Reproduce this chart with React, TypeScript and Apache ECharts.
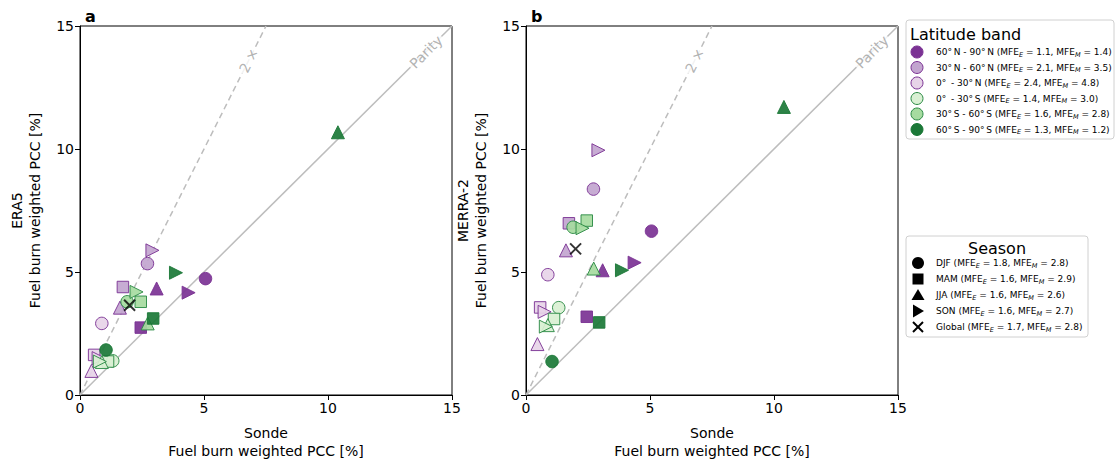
import React, { useEffect, useRef } from 'react';
import * as echarts from 'echarts';

const FONT = 'DejaVu Sans';

const seasons = ['DJF', 'MAM', 'JJA', 'SON'];
const seasonMfeE = [1.8, 1.6, 1.6, 1.6];
const seasonMfeM = [2.8, 2.9, 2.6, 2.7];
const globalMfeE = 1.7;
const globalMfeM = 2.8;

const bands = ['60°\u2009N - 90°\u2009N', '30°\u2009N - 60°\u2009N', '0°\u2009 - 30°\u2009N', '0°\u2009 - 30°\u2009S', '30°\u2009S - 60°\u2009S', '60°\u2009S - 90°\u2009S'];
const bandMfeE = [1.1, 2.1, 2.4, 1.4, 1.6, 1.3];
const bandMfeM = [1.4, 3.5, 4.8, 3.0, 2.8, 1.2];
const bandFill = ['#7b3294', '#c2a5cf', '#e7d4e8', '#d9f0d3', '#a6dba0', '#1b7837'];
const bandEdge = ['#7b3294', '#7b3294', '#7b3294', '#2a8a44', '#2a8a44', '#1b7837'];

// Sonde values per band, order DJF, MAM, JJA, SON
const sondeX = [
  [5.06, 2.45, 3.09, 4.38],
  [2.72, 1.73, 1.61, 2.92],
  [0.88, 0.57, 0.46, 0.75],
  [1.32, 1.13, 0.88, 0.8],
  [1.9, 2.45, 2.73, 2.28],
  [1.05, 2.95, 10.4, 3.87],
];
const era5Y = [
  [4.73, 2.74, 4.33, 4.16],
  [5.34, 4.39, 3.55, 5.88],
  [2.91, 1.63, 0.98, 1.5],
  [1.39, 1.36, 1.34, 1.36],
  [3.79, 3.79, 2.91, 4.19],
  [1.83, 3.11, 10.68, 4.97],
];
const merraY = [
  [6.66, 3.18, 5.07, 5.38],
  [8.37, 6.98, 5.88, 9.95],
  [4.89, 3.56, 2.07, 3.38],
  [3.55, 3.09, 2.84, 2.78],
  [6.82, 7.09, 5.14, 6.78],
  [1.36, 2.95, 11.71, 5.07],
];
const globalSonde = 2.0;
const globalEra5 = 3.65;
const globalMerra = 5.94;

const axisMin = 0;
const axisMax = 15;
const axisStep = 5;

const parityLine = [[0, 0], [15, 15]];
const doubleLine = [[0, 0], [7.5, 15]];
const parityLabelPos = [13.95, 13.95];
const doubleLabelPos = [6.8, 13.6];

const panelNames = ['ERA5', 'MERRA-2'];
const panelLetters = ['a', 'b'];

const seasonSymbol = ['circle', 'rect', 'triangle', 'triangle'];
const seasonRotate = [0, 0, 0, -90];
const seasonSize = [12.5, 11.5, 13, 13];
const X_PATH = 'path://M0,0L10,10M10,0L0,10';

const GRID_LEFT = [80, 526];
const GRID_TOP = 26;
const GRID_W = 372;
const GRID_H = 371;

const rich = {
  n: { fontSize: 9, fontFamily: FONT, color: '#000', lineHeight: 12 },
  s: { fontSize: 6.5, fontFamily: FONT, fontStyle: 'italic', color: '#000', lineHeight: 8, verticalAlign: 'bottom' },
};

function entryText(label: string, e: number, m: number) {
  return `{n|${label} (MFE}{s|E}{n| = ${e.toFixed(1)}, MFE}{s|M}{n| = ${m.toFixed(1)})}`;
}

function buildOption() {
  const grids = GRID_LEFT.map((l) => ({
    left: l, top: GRID_TOP, width: GRID_W, height: GRID_H,
    show: true, borderColor: '#000', borderWidth: 1, backgroundColor: 'transparent',
  }));
  const axisCommon = {
    type: 'value', min: axisMin, max: axisMax, interval: axisStep,
    axisLine: { show: true, onZero: false, lineStyle: { color: '#000', width: 1 } },
    axisTick: { show: true, inside: false, length: 5, lineStyle: { color: '#000' } },
    splitLine: { show: false },
    axisLabel: { color: '#000', fontSize: 14, fontFamily: FONT, margin: 6 },
    nameTextStyle: { color: '#000', fontSize: 14, fontFamily: FONT, lineHeight: 18 },
  };
  const xAxes = [0, 1].map((i) => ({
    ...axisCommon, gridIndex: i, name: 'Sonde\nFuel burn weighted PCC [%]',
    nameLocation: 'middle', nameGap: 29,
  }));
  const yAxes = [0, 1].map((i) => ({
    ...axisCommon, gridIndex: i, name: `${panelNames[i]}\nFuel burn weighted PCC [%]`,
    nameLocation: 'middle', nameGap: 36,
  }));

  const series: any[] = [];
  [era5Y, merraY].forEach((ys, p) => {
    series.push({
      type: 'line', xAxisIndex: p, yAxisIndex: p, data: parityLine, showSymbol: false, silent: true, z: 1,
      lineStyle: { color: '#bdbdbd', width: 1.5 },
    });
    series.push({
      type: 'line', xAxisIndex: p, yAxisIndex: p, data: doubleLine, showSymbol: false, silent: true, z: 1,
      lineStyle: { color: '#bdbdbd', width: 1.5, type: [6, 4] },
    });
    const lbl = (pos: number[], text: string, rot: number) => ({
      type: 'scatter', xAxisIndex: p, yAxisIndex: p, silent: true, z: 2,
      symbolSize: 1, itemStyle: { color: 'transparent' },
      data: [pos],
      label: {
        show: true, position: 'inside', formatter: text, rotate: rot,
        color: '#9e9e9e', fontSize: 14, fontFamily: FONT, backgroundColor: '#fff', padding: [0, 2],
      },
    });
    series.push(lbl(parityLabelPos, 'Parity', 45));
    series.push(lbl(doubleLabelPos, '2 ×', 63.4));
    ys.forEach((row, b) => {
      series.push({
        type: 'scatter', xAxisIndex: p, yAxisIndex: p, z: 3,
        itemStyle: { color: bandFill[b], borderColor: bandEdge[b], borderWidth: 1, opacity: 0.92 },
        data: row.map((y, s) => ({
          value: [sondeX[b][s], y],
          symbol: seasonSymbol[s],
          symbolRotate: seasonRotate[s],
          symbolSize: seasonSize[s],
        })),
      });
    });
    series.push({
      type: 'scatter', xAxisIndex: p, yAxisIndex: p, z: 4,
      symbol: X_PATH, symbolSize: 11,
      itemStyle: { color: 'none', borderColor: '#000', borderWidth: 2 },
      data: [[globalSonde, p === 0 ? globalEra5 : globalMerra]],
    });
  });

  const graphic: any[] = [];
  // Latitude band legend
  graphic.push({ type: 'rect', shape: { x: 906, y: 20, width: 208, height: 119, r: 3 }, style: { fill: '#fff', stroke: '#d0d0d0', lineWidth: 1 }, z: 10 });
  graphic.push({ type: 'text', x: 910, y: 34, style: { text: 'Latitude band', fontSize: 16, fontFamily: FONT, fill: '#000', verticalAlign: 'middle' }, z: 11 });
  const latY = [52, 67.5, 83, 98.5, 114, 129.5];
  bands.forEach((b, i) => {
    graphic.push({ type: 'circle', shape: { cx: 917, cy: latY[i], r: 6 }, style: { fill: bandFill[i], stroke: bandEdge[i], lineWidth: 1 }, z: 11 });
    graphic.push({ type: 'text', x: 936, y: latY[i], style: { text: entryText(b, bandMfeE[i], bandMfeM[i]), rich, verticalAlign: 'middle' }, z: 11 });
  });
  // Season legend
  graphic.push({ type: 'rect', shape: { x: 906, y: 236, width: 182, height: 101, r: 3 }, style: { fill: '#fff', stroke: '#d0d0d0', lineWidth: 1 }, z: 10 });
  graphic.push({ type: 'text', x: 997, y: 248, style: { text: 'Season', fontSize: 16, fontFamily: FONT, fill: '#000', align: 'center', verticalAlign: 'middle' }, z: 11 });
  const seaY = [263, 279, 295, 311, 327];
  const mx = 918;
  graphic.push({ type: 'circle', shape: { cx: mx, cy: seaY[0], r: 6 }, style: { fill: '#000' }, z: 11 });
  graphic.push({ type: 'rect', shape: { x: mx - 5.5, y: seaY[1] - 5.5, width: 11, height: 11 }, style: { fill: '#000' }, z: 11 });
  graphic.push({ type: 'polygon', shape: { points: [[mx, seaY[2] - 6], [mx + 6.5, seaY[2] + 5], [mx - 6.5, seaY[2] + 5]] }, style: { fill: '#000' }, z: 11 });
  graphic.push({ type: 'polygon', shape: { points: [[mx + 6, seaY[3]], [mx - 5, seaY[3] - 6.5], [mx - 5, seaY[3] + 6.5]] }, style: { fill: '#000' }, z: 11 });
  graphic.push({ type: 'line', shape: { x1: mx - 5, y1: seaY[4] - 5, x2: mx + 5, y2: seaY[4] + 5 }, style: { stroke: '#000', lineWidth: 2 }, z: 11 });
  graphic.push({ type: 'line', shape: { x1: mx + 5, y1: seaY[4] - 5, x2: mx - 5, y2: seaY[4] + 5 }, style: { stroke: '#000', lineWidth: 2 }, z: 11 });
  seasons.forEach((s, i) => {
    graphic.push({ type: 'text', x: 936, y: seaY[i], style: { text: entryText(s, seasonMfeE[i], seasonMfeM[i]), rich, verticalAlign: 'middle' }, z: 11 });
  });
  graphic.push({ type: 'text', x: 936, y: seaY[4], style: { text: entryText('Global', globalMfeE, globalMfeM), rich, verticalAlign: 'middle' }, z: 11 });

  return {
    animation: false,
    backgroundColor: '#fff',
    textStyle: { fontFamily: FONT },
    title: panelLetters.map((t, i) => ({
      text: t, left: GRID_LEFT[i], top: 3,
      textStyle: { fontSize: 16, fontWeight: 'bold', color: '#000', fontFamily: FONT },
    })),
    grid: grids,
    xAxis: xAxes,
    yAxis: yAxes,
    series,
    graphic,
  };
}

export default function App() {
  const ref = useRef<HTMLDivElement>(null);
  useEffect(() => {
    document.body.style.margin = '0';
    if (!ref.current) return;
    const chart = echarts.init(ref.current, undefined, { renderer: 'svg' });
    chart.setOption(buildOption() as any);
    return () => chart.dispose();
  }, []);
  return <div ref={ref} style={{ width: 1116, height: 465 }} />;
}
